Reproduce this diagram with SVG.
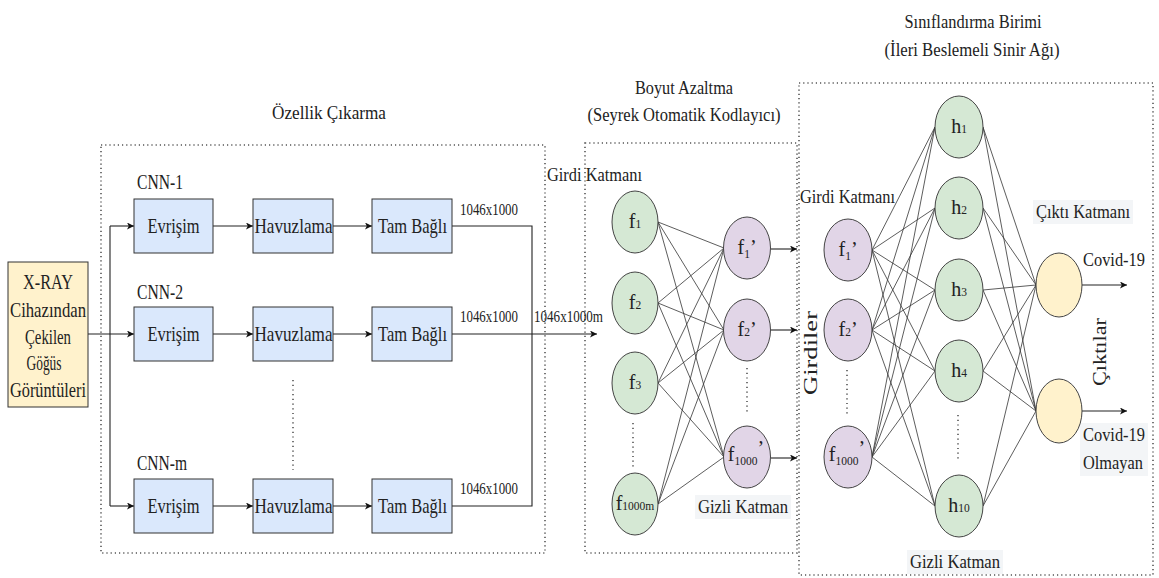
<svg xmlns="http://www.w3.org/2000/svg" width="1159" height="578" viewBox="0 0 1159 578" font-family="'Liberation Serif', 'Times New Roman', 'DejaVu Serif', serif">
<style>
text, tspan{font-family:'Liberation Serif','Times New Roman','DejaVu Serif',serif;fill:#222;}
.t18{font-size:19px;}
.t20{font-size:21px;}
.t16{font-size:16.5px;}
.frame{fill:none;stroke:#555;stroke-width:1.6;stroke-dasharray:1.2 3;}
.vdot{fill:none;stroke:#555;stroke-width:1.6;stroke-dasharray:1.2 3.5;}
.box{fill:#dae8fc;stroke:#333;stroke-width:1;}
.xray{fill:#fff2cc;stroke:#333;stroke-width:1;}
.g{fill:#d5e8d4;stroke:#444;stroke-width:1;}
.p{fill:#e1d5e7;stroke:#444;stroke-width:1;}
.y{fill:#fff2cc;stroke:#444;stroke-width:1;}
.ln{fill:none;stroke:#222;stroke-width:1.1;}
.arr{fill:none;stroke:#222;stroke-width:1.1;marker-end:url(#ah);}
.net{fill:none;stroke:#333;stroke-width:0.8;}
.lbg{fill:#f3f5f7;}
.nl{font-size:20px;text-anchor:middle;}
.sub{font-size:11.5px;}
</style>
<defs>
<marker id="ah" markerWidth="8" markerHeight="7" refX="7" refY="3.5" orient="auto" markerUnits="userSpaceOnUse">
<path d="M0,0 L7,3.5 L0,7 L1.8,3.5 z" fill="#111"/>
</marker>
</defs>

<g id="frames">
<rect class="frame" x="101" y="145" width="444" height="408"/>
<rect class="frame" x="585" y="143" width="212" height="410"/>
<rect class="frame" x="799" y="83" width="354" height="492"/>
<line class="vdot" x1="293" y1="380" x2="293" y2="470"/>
<line class="vdot" x1="633" y1="423" x2="633" y2="470"/>
<line class="vdot" x1="747" y1="368" x2="747" y2="415"/>
<line class="vdot" x1="847" y1="370" x2="847" y2="415"/>
<line class="vdot" x1="958" y1="415" x2="958" y2="462"/>
</g>
<g id="titles">
<text class="t18" x="329" y="119" text-anchor="middle" textLength="114" lengthAdjust="spacingAndGlyphs">Özellik Çıkarma</text>
<text class="t18" x="684" y="94" text-anchor="middle" textLength="98" lengthAdjust="spacingAndGlyphs">Boyut Azaltma</text>
<text class="t18" x="684" y="121" text-anchor="middle" textLength="193" lengthAdjust="spacingAndGlyphs">(Seyrek Otomatik Kodlayıcı)</text>
<text class="t18" x="973" y="28" text-anchor="middle" textLength="137" lengthAdjust="spacingAndGlyphs">Sınıflandırma Birimi</text>
<text class="t18" x="972" y="56" text-anchor="middle" textLength="175" lengthAdjust="spacingAndGlyphs">(İleri Beslemeli Sinir Ağı)</text>
<text class="t20" x="137" y="189" textLength="46" lengthAdjust="spacingAndGlyphs">CNN-1</text>
<text class="t20" x="137" y="299" textLength="46" lengthAdjust="spacingAndGlyphs">CNN-2</text>
<text class="t20" x="137" y="470" textLength="50" lengthAdjust="spacingAndGlyphs">CNN-m</text>
<text class="t16" x="460" y="215" textLength="58" lengthAdjust="spacingAndGlyphs">1046x1000</text>
<text class="t16" x="460" y="322" textLength="58" lengthAdjust="spacingAndGlyphs">1046x1000</text>
<text class="t16" x="460" y="494" textLength="58" lengthAdjust="spacingAndGlyphs">1046x1000</text>
<text class="t16" x="534" y="322" textLength="69" lengthAdjust="spacingAndGlyphs">1046x1000m</text>
<text class="t18" x="547" y="181" textLength="95" lengthAdjust="spacingAndGlyphs">Girdi Katmanı</text>
<rect class="lbg" x="695" y="495" width="96" height="24"/>
<text class="t18" x="698" y="513" textLength="90" lengthAdjust="spacingAndGlyphs">Gizli Katman</text>
<text class="t18" x="800" y="203" textLength="95" lengthAdjust="spacingAndGlyphs">Girdi Katmanı</text>
<rect class="lbg" x="1033" y="200" width="100" height="24"/>
<text class="t18" x="1036" y="218" textLength="94" lengthAdjust="spacingAndGlyphs">Çıktı Katmanı</text>
<text class="t18" x="1083" y="266" textLength="62" lengthAdjust="spacingAndGlyphs">Covid-19</text>
<rect class="lbg" x="1080" y="423" width="68" height="53"/>
<text class="t18" x="1083" y="441" textLength="62" lengthAdjust="spacingAndGlyphs">Covid-19</text>
<text class="t18" x="1083" y="469" textLength="60" lengthAdjust="spacingAndGlyphs">Olmayan</text>
<rect class="lbg" x="907" y="550" width="96" height="24"/>
<text class="t18" x="910" y="568" textLength="90" lengthAdjust="spacingAndGlyphs">Gizli Katman</text>
<text class="t18" transform="translate(817,353) rotate(-90)" text-anchor="middle" textLength="84" lengthAdjust="spacingAndGlyphs">Girdiler</text>
<text class="t18" transform="translate(1106,352) rotate(-90)" text-anchor="middle" textLength="68" lengthAdjust="spacingAndGlyphs">Çıktılar</text>
</g>

<g id="connectors">
<line class="arr" x1="88" y1="334" x2="134" y2="334"/>
<polyline class="ln" points="110,226 110,506"/>
<line class="arr" x1="110" y1="226" x2="134" y2="226"/>
<line class="arr" x1="110" y1="506" x2="134" y2="506"/>
<line class="arr" x1="213" y1="226" x2="253" y2="226"/>
<line class="arr" x1="213" y1="334" x2="253" y2="334"/>
<line class="arr" x1="213" y1="506" x2="253" y2="506"/>
<line class="arr" x1="333" y1="226" x2="372" y2="226"/>
<line class="arr" x1="333" y1="334" x2="372" y2="334"/>
<line class="arr" x1="333" y1="506" x2="372" y2="506"/>
<polyline class="ln" points="452,226 532,226 532,506 452,506"/>
<line class="arr" x1="452" y1="334" x2="597" y2="334"/>
<line class="arr" x1="771" y1="249" x2="797" y2="249"/>
<line class="arr" x1="771" y1="330" x2="797" y2="330"/>
<line class="arr" x1="771" y1="458" x2="797" y2="458"/>
<line class="arr" x1="1082" y1="285" x2="1127" y2="285"/>
<line class="arr" x1="1082" y1="411" x2="1127" y2="411"/>
<g class="net">
<path d="M658,222 L724,248 M658,222 L724,330 M658,222 L724,457
M658,303 L724,248 M658,303 L724,330 M658,303 L724,457
M658,383 L724,248 M658,383 L724,330 M658,383 L724,457
M658,504 L724,248 M658,504 L724,330 M658,504 L724,457"/>
</g>
<g class="net">
<path d="M872,250 L935,127 M872,250 L935,208 M872,250 L935,290 M872,250 L935,371 M872,250 L935,506
M872,330 L935,127 M872,330 L935,208 M872,330 L935,290 M872,330 L935,371 M872,330 L935,506
M872,457 L935,127 M872,457 L935,208 M872,457 L935,290 M872,457 L935,371 M872,457 L935,506"/>
</g>
<g class="net">
<path d="M983,127 L1036,285 M983,127 L1036,411
M983,208 L1036,285 M983,208 L1036,411
M983,290 L1036,285 M983,290 L1036,411
M983,371 L1036,285 M983,371 L1036,411
M983,506 L1036,285 M983,506 L1036,411"/>
</g>
</g>

<g id="xray">
<rect class="xray" x="8" y="262" width="80" height="145"/>
<text class="t20" x="48" y="289" text-anchor="middle" textLength="50" lengthAdjust="spacingAndGlyphs">X-RAY</text>
<text class="t20" x="48" y="317" text-anchor="middle" textLength="76" lengthAdjust="spacingAndGlyphs">Cihazından</text>
<text class="t20" x="48" y="344" text-anchor="middle" textLength="46" lengthAdjust="spacingAndGlyphs">Çekilen</text>
<text class="t20" x="44" y="370" text-anchor="middle" textLength="35" lengthAdjust="spacingAndGlyphs">Göğüs</text>
<text class="t20" x="48" y="397" text-anchor="middle" textLength="76" lengthAdjust="spacingAndGlyphs">Görüntüleri</text>
</g>
<g id="evrisim1"><rect class="box" x="134" y="199" width="79" height="54"/><text class="t20" x="173.5" y="233" text-anchor="middle" textLength="52" lengthAdjust="spacingAndGlyphs">Evrişim</text></g>
<g id="evrisim2"><rect class="box" x="134" y="307" width="79" height="54"/><text class="t20" x="173.5" y="341" text-anchor="middle" textLength="52" lengthAdjust="spacingAndGlyphs">Evrişim</text></g>
<g id="evrisimm"><rect class="box" x="134" y="479" width="79" height="54"/><text class="t20" x="173.5" y="513" text-anchor="middle" textLength="52" lengthAdjust="spacingAndGlyphs">Evrişim</text></g>
<g id="havuz1"><rect class="box" x="253" y="199" width="80" height="54"/><text class="t20" x="293.5" y="233" text-anchor="middle" textLength="78" lengthAdjust="spacingAndGlyphs">Havuzlama</text></g>
<g id="havuz2"><rect class="box" x="253" y="307" width="80" height="54"/><text class="t20" x="293.5" y="341" text-anchor="middle" textLength="78" lengthAdjust="spacingAndGlyphs">Havuzlama</text></g>
<g id="havuzm"><rect class="box" x="253" y="479" width="80" height="54"/><text class="t20" x="293.5" y="513" text-anchor="middle" textLength="78" lengthAdjust="spacingAndGlyphs">Havuzlama</text></g>
<g id="tam1"><rect class="box" x="372" y="199" width="80" height="54"/><text class="t20" x="412.5" y="233" text-anchor="middle" textLength="69" lengthAdjust="spacingAndGlyphs">Tam Bağlı</text></g>
<g id="tam2"><rect class="box" x="372" y="307" width="80" height="54"/><text class="t20" x="412.5" y="341" text-anchor="middle" textLength="69" lengthAdjust="spacingAndGlyphs">Tam Bağlı</text></g>
<g id="tamm"><rect class="box" x="372" y="479" width="80" height="54"/><text class="t20" x="412.5" y="513" text-anchor="middle" textLength="69" lengthAdjust="spacingAndGlyphs">Tam Bağlı</text></g>

<g id="ae_f1"><ellipse class="g" cx="635" cy="222" rx="23" ry="31"/><text class="nl" x="635" y="228">f<tspan class="sub">1</tspan></text></g>
<g id="ae_f2"><ellipse class="g" cx="635" cy="303" rx="23" ry="31"/><text class="nl" x="635" y="309">f<tspan class="sub">2</tspan></text></g>
<g id="ae_f3"><ellipse class="g" cx="635" cy="383" rx="23" ry="31"/><text class="nl" x="635" y="389">f<tspan class="sub">3</tspan></text></g>
<g id="ae_f1000m"><ellipse class="g" cx="635" cy="504" rx="23" ry="31"/><text class="nl" x="635" y="510">f<tspan class="sub">1000m</tspan></text></g>

<g id="ae_h1"><ellipse class="p" cx="747" cy="248" rx="23.5" ry="31"/><text class="nl" x="747" y="254">f<tspan class="sub" dy="4">1</tspan><tspan dy="-4">’</tspan></text></g>
<g id="ae_h2"><ellipse class="p" cx="747" cy="330" rx="23.5" ry="31"/><text class="nl" x="747" y="336">f<tspan class="sub">2</tspan>’</text></g>
<g id="ae_h1000"><ellipse class="p" cx="747" cy="457" rx="23.5" ry="31"/><text class="nl" x="746" y="461">f<tspan class="sub" dy="4">1000</tspan><tspan dy="-10">’</tspan></text></g>

<g id="c_f1"><ellipse class="p" cx="848" cy="250" rx="24" ry="31"/><text class="nl" x="848" y="256">f<tspan class="sub" dy="4">1</tspan><tspan dy="-4">’</tspan></text></g>
<g id="c_f2"><ellipse class="p" cx="848" cy="330" rx="24" ry="31"/><text class="nl" x="848" y="336">f<tspan class="sub">2</tspan>’</text></g>
<g id="c_f1000"><ellipse class="p" cx="848" cy="457" rx="24" ry="31"/><text class="nl" x="847" y="461">f<tspan class="sub" dy="4">1000</tspan><tspan dy="-10">’</tspan></text></g>

<g id="h1"><ellipse class="g" cx="959" cy="127" rx="24" ry="31"/><text class="nl" x="959" y="133">h<tspan class="sub">1</tspan></text></g>
<g id="h2"><ellipse class="g" cx="959" cy="208" rx="24" ry="31"/><text class="nl" x="959" y="214">h<tspan class="sub">2</tspan></text></g>
<g id="h3"><ellipse class="g" cx="959" cy="290" rx="24" ry="31"/><text class="nl" x="959" y="296">h<tspan class="sub">3</tspan></text></g>
<g id="h4"><ellipse class="g" cx="959" cy="371" rx="24" ry="31"/><text class="nl" x="959" y="377">h<tspan class="sub">4</tspan></text></g>
<g id="h10"><ellipse class="g" cx="959" cy="506" rx="24" ry="31"/><text class="nl" x="959" y="512">h<tspan class="sub">10</tspan></text></g>

<g id="out1"><ellipse class="y" cx="1059" cy="285" rx="23" ry="32"/></g>
<g id="out2"><ellipse class="y" cx="1059" cy="411" rx="23" ry="32"/></g>
</svg>
